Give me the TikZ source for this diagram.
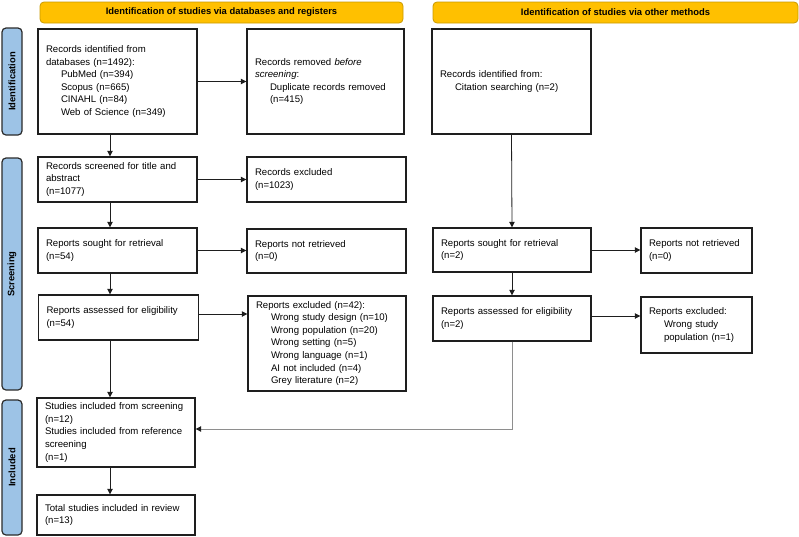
\documentclass[tikz,border=0pt]{standalone}
\usepackage{fontspec}
\setmainfont{Liberation Sans}
\usetikzlibrary{arrows.meta,calc}
\definecolor{hdrfill}{HTML}{FFC000}
\definecolor{hdrdraw}{HTML}{C99A00}
\definecolor{sidefill}{HTML}{9DC3E6}
\definecolor{sidedraw}{HTML}{2B2B2B}
\definecolor{boxdraw}{HTML}{1E1E1E}
\definecolor{greyline}{HTML}{8E8E8E}
\tikzset{
  x=1pt, y=-1pt,
  box/.style={draw=boxdraw, line width=1.4pt, fill=white, rectangle, inner xsep=8pt, inner ysep=2pt,
    align=left, font=\fontsize{9.6}{12.6}\selectfont, text=black},
  hdr/.style={draw=hdrdraw, line width=0.8pt, fill=hdrfill, rounded corners=4pt, minimum height=21pt,
    font=\bfseries\fontsize{9.4}{11}\selectfont},
  side/.style={draw=sidedraw, line width=1.2pt, fill=sidefill, rounded corners=4pt, minimum height=20pt,
    inner sep=0pt, rotate=90, font=\bfseries\fontsize{9.4}{11}\selectfont},
  arr/.style={draw=boxdraw, line width=0.8pt, -{Triangle[length=5.5pt,width=5.5pt]}},
  garr/.style={draw=greyline, line width=1pt, -{Triangle[length=5.5pt,width=5.5pt,fill=boxdraw,color=boxdraw]}}
}
\newcommand{\ind}{\hspace*{15pt}}
\begin{document}
\begin{tikzpicture}
\useasboundingbox (0,0) rectangle (799,536);
% headers
\node[hdr, minimum width=363pt] (h1) at (221.5,12.5) {Identification of studies via databases and registers};
\node[hdr, minimum width=365pt] (h2) at (615.5,12.5) {Identification of studies via other methods};
% side bars
\node[side, minimum width=107pt] (s1) at (12,81.5) {Identification};
\node[side, minimum width=232pt] (s2) at (12,274) {Screening};
\node[side, minimum width=135pt] (s3) at (12,467.5) {Included};
% boxes
\node[box, minimum width=159pt, minimum height=105pt, text width=143pt] (A) at (117.5,81.5)
  {Records identified from\\databases (n=1492):\\\ind PubMed (n=394)\\\ind Scopus (n=665)\\\ind CINAHL (n=84)\\\ind Web of Science (n=349)};
\node[box, minimum width=157pt, minimum height=105pt, text width=141pt] (B) at (325.5,81.5)
  {Records removed \textit{before}\\\textit{screening}:\\\ind Duplicate records removed\\\ind (n=415)};
\node[box, minimum width=159pt, minimum height=105pt, text width=143pt] (C) at (511.5,81.5)
  {Records identified from:\\\ind Citation searching (n=2)};
\node[box, minimum width=159pt, minimum height=45pt, text width=143pt] (D) at (117.5,179.5)
  {Records screened for title and\\abstract\\(n=1077)};
\node[box, minimum width=159pt, minimum height=45pt, text width=143pt] (E) at (326.5,179.5)
  {Records excluded\\(n=1023)};
\node[box, minimum width=159pt, minimum height=45pt, text width=143pt] (F) at (117.5,250.5)
  {Reports sought for retrieval\\(n=54)};
\node[box, minimum width=159pt, minimum height=44pt, text width=143pt] (G) at (326.5,251)
  {Reports not retrieved\\(n=0)};
\node[box, minimum width=158pt, minimum height=44pt, text width=142pt] (H) at (512,250)
  {Reports sought for retrieval\\(n=2)};
\node[box, minimum width=111pt, minimum height=45pt, text width=95pt] (I) at (696.5,250.5)
  {Reports not retrieved\\(n=0)};
\node[box, minimum width=160pt, minimum height=45pt, text width=144pt] (J) at (118.5,317.5)
  {Reports assessed for eligibility\\(n=54)};
\node[box, minimum width=158pt, minimum height=95pt, text width=142pt] (K) at (327,343.5)
  {Reports excluded (n=42):\\\ind Wrong study design (n=10)\\\ind Wrong population (n=20)\\\ind Wrong setting (n=5)\\\ind Wrong language (n=1)\\\ind AI not included (n=4)\\\ind Grey literature (n=2)};
\node[box, minimum width=158pt, minimum height=45pt, text width=142pt] (L) at (512,318.5)
  {Reports assessed for eligibility\\(n=2)};
\node[box, minimum width=111pt, minimum height=56pt, text width=95pt] (M) at (696.5,325)
  {Reports excluded:\\\ind Wrong study\\\ind population (n=1)};
\node[box, minimum width=158pt, minimum height=69pt, text width=142pt] (N) at (116,432.5)
  {Studies included from screening\\(n=12)\\Studies included from reference\\screening\\(n=1)};
\node[box, minimum width=158pt, minimum height=40pt, text width=142pt] (O) at (116,515)
  {Total studies included in review\\(n=13)};
% connectors
\coordinate (vx) at (110,0);
\draw[arr] (A.south -| vx) -- (D.north -| vx);
\draw[arr] (D.south -| vx) -- (F.north -| vx);
\draw[arr] (F.south -| vx) -- (J.north -| vx);
\draw[arr] (J.south -| vx) -- (N.north -| vx);
\draw[arr] (N.south -| vx) -- (O.north -| vx);
\draw[arr] (A.east) -- (B.west);
\draw[arr] (D.east) -- (E.west);
\draw[arr] (F.east) -- (F.east -| G.west);
\draw[arr] ([yshift=3.5pt]J.east) -- ([yshift=3.5pt]J.east -| K.west);
\draw[arr] (C.south) -- (H.north);
\draw[arr] (H.south) -- (L.north);
\draw[arr] (H.east) -- (H.east -| I.west);
\draw[arr] ([yshift=2.5pt]L.east) -- ([yshift=2.5pt]L.east -| M.west);
\draw[garr] (L.south) |- ([yshift=3.5pt]N.east);
\end{tikzpicture}
\end{document}
